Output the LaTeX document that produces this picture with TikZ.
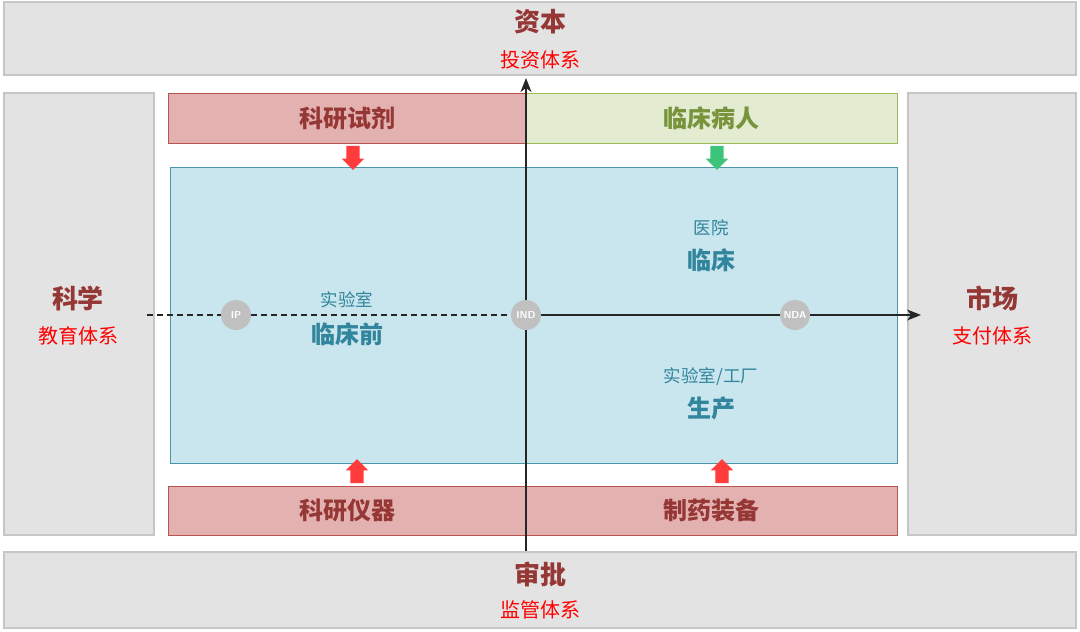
\documentclass[tikz,border=0pt]{standalone}
\usepackage{fontspec}
\setmainfont{Noto Sans CJK SC}
\usepackage{tikz}
\usetikzlibrary{arrows.meta,positioning,shapes.arrows}
\definecolor{grayfill}{HTML}{E3E3E3}
\definecolor{grayline}{HTML}{C6C6C6}
\definecolor{redfill}{HTML}{E4B1B1}
\definecolor{redline}{HTML}{B85450}
\definecolor{greenfill}{HTML}{E3EBD0}
\definecolor{greenline}{HTML}{9BBB59}
\definecolor{bluefill}{HTML}{C9E5ED}
\definecolor{blueline}{HTML}{4A97AC}
\definecolor{darkred}{HTML}{953735}
\definecolor{bluetext}{HTML}{31859C}
\definecolor{greentext}{HTML}{77933C}
\definecolor{dotgray}{HTML}{C0C0C0}
\definecolor{redarrow}{HTML}{FF3B3B}
\definecolor{greenarrow}{HTML}{3CC47A}
\tikzset{
    %Define standard arrow tip
    >={Stealth[length=14pt,width=11pt,inset=4pt]},
    %Define style for boxes
    outer/.style={
           rectangle,
           draw=grayline, line width=1.2pt,
           fill=grayfill},
    redbox/.style={
           rectangle,
           draw=redline, line width=1pt,
           fill=redfill,
           font=\fontsize{24}{28}\selectfont\bfseries,
           text=darkred},
    greenbox/.style={
           rectangle,
           draw=greenline, line width=1pt,
           fill=greenfill,
           font=\fontsize{24}{28}\selectfont\bfseries,
           text=greentext},
    stage/.style={
           rectangle,
           draw=blueline, line width=0.8pt,
           fill=bluefill},
    title/.style={
           font=\fontsize{26}{30}\selectfont\bfseries,
           text=darkred},
    subtitle/.style={
           font=\fontsize{20}{24}\selectfont,
           text=red},
    place/.style={
           font=\fontsize{17.5}{20}\selectfont,
           text=bluetext},
    phase/.style={
           font=\fontsize{24}{28}\selectfont\bfseries,
           text=bluetext},
    milestone/.style={
           circle,
           fill=dotgray,
           minimum size=30pt,
           inner sep=0pt,
           font=\sffamily\bfseries\fontsize{10}{11}\selectfont,
           text=white},
    % Define arrow style
    pil/.style={
           single arrow,
           single arrow head extend=4.5pt,
           inner sep=6.5pt,
           minimum height=24pt},
    axis/.style={
           line width=1.3pt,
           draw=black!85}
}
\begin{document}
\begin{tikzpicture}[x=1pt,y=-1pt]
\useasboundingbox (0,0) rectangle (1080,632);
 %outer frames
\node[outer, minimum width=1072pt, minimum height=73pt] (capital) at (540,38.5) {};
\node[outer, minimum width=1072pt, minimum height=76pt] (approval) at (540,590) {};
\node[outer, minimum width=150pt, minimum height=442pt] (science) at (79,314) {};
\node[outer, minimum width=168pt, minimum height=442pt] (market) at (992,314) {};

\node[title] (capitalT) at (540,22) {资本};
\node[subtitle] (capitalS) at (540,60) {投资体系};
\node[title] (approvalT) at (540,574) {审批};
\node[subtitle] (approvalS) at (540,610) {监管体系};
\node[title] (scienceT) at (78,298) {科学};
\node[subtitle] (scienceS) at (78,336) {教育体系};
\node[title] (marketT) at (992,298) {市场};
\node[subtitle] (marketS) at (992,336) {支付体系};

 %inputs
\node[redbox, minimum width=358pt, minimum height=50pt] (reagent) at (347,118) {科研试剂};
\node[greenbox, minimum width=371pt, minimum height=50pt] (patient) at (711.5,118) {临床病人};
\node[redbox, minimum width=358pt, minimum height=49pt] (instrument) at (347,510.5) {科研仪器};
\node[redbox, minimum width=371pt, minimum height=49pt] (equipment) at (711.5,510.5) {制药装备};

 %main area
\node[stage, minimum width=727pt, minimum height=296pt] (rd) at (533.5,315) {};
\node[place] (lab) at (347,300) {实验室};
\node[phase] (preclin) at (347,334) {临床前};
\node[place] (hospital) at (711,228) {医院};
\node[phase] (clinic) at (711,260) {临床};
\node[place] (factory) at (711,377) {实验室/工厂};
\node[phase] (production) at (711,408) {生产};

 %block arrows
\node[pil, fill=redarrow, shape border rotate=270] (a1) at (353,154.5) {};
\node[pil, fill=greenarrow, shape border rotate=270] (a2) at (717,154.5) {};
\node[pil, fill=redarrow, shape border rotate=90] (a3) at (357,474.5) {};
\node[pil, fill=redarrow, shape border rotate=90] (a4) at (722,474.5) {};

 %axes
\node[milestone] (ip) at (236,315) {IP};
\node[milestone] (ind) at (526,315) {IND};
\node[milestone] (nda) at (795,315) {NDA};
\coordinate (west) at (147,315);
\coordinate (east) at (921,315);
\coordinate (south) at (526,551);
\coordinate (north) at (526,78);

\draw[axis, dashed, dash pattern=on 6pt off 4pt] (west) -- (ip);
\draw[axis, dashed, dash pattern=on 6pt off 4pt] (ip) -- (ind);
\draw[axis] (ind) -- (nda);
\draw[axis, ->] (nda) -- (east);
\draw[axis] (south) -- (ind);
\draw[axis, ->] (ind) -- (north);
\end{tikzpicture}
\end{document}
